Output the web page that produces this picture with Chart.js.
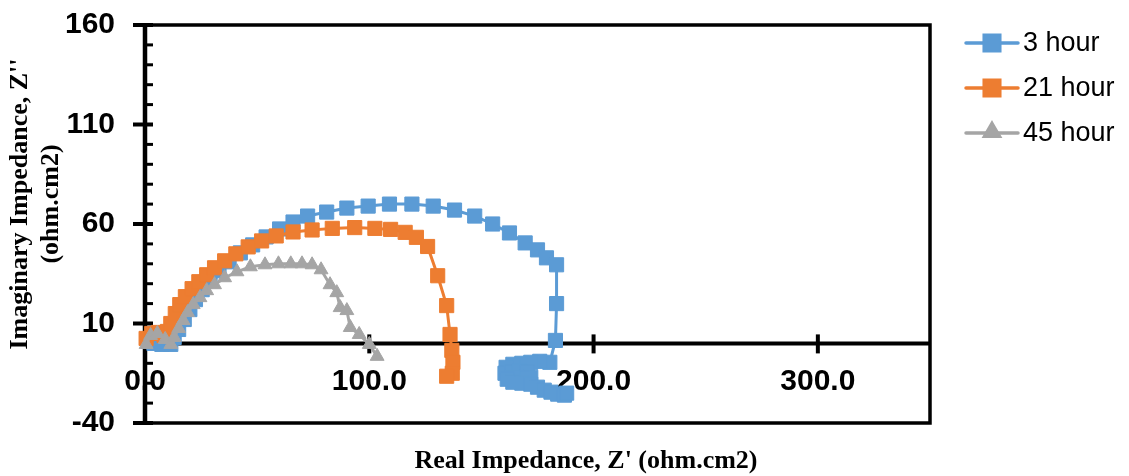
<!DOCTYPE html>
<html>
<head>
<meta charset="utf-8">
<script src="https://cdn.jsdelivr.net/npm/chart.js@4.4.0/dist/chart.umd.min.js"></script>
<style>
  html, body { margin: 0; padding: 0; background: #fff; }
  #wrap { width: 1129px; height: 476px; }
</style>
</head>
<body>
<div id="wrap"><canvas id="chart" width="1129" height="476"></canvas></div>
<script>
// Nyquist data (Z' real, Z'' imaginary, ohm.cm2)
const hour3X = [1.5, 4, 7.5, 11.5, 13, 15, 17.5, 20, 22.5, 25.5, 29, 33, 37.5, 42.5, 48, 54, 60, 66, 72.5, 81, 90, 99.5, 109, 119, 128.5, 138, 147, 155, 162.5, 169.5, 175, 179, 183.5, 183.5, 183, 180.5, 176, 172, 168, 164, 161, 160.5, 163.5, 167, 170.5, 172, 168, 164, 161.5, 164, 168, 172, 175, 178, 181, 184, 187, 188];
const hour3Y = [1, 0, -0.5, -0.5, 3, 7, 12, 17, 22, 27, 32, 36.5, 41, 45.5, 49.5, 53.5, 57.5, 61, 64, 66, 68, 69, 70, 70, 69, 67, 64, 60, 55.5, 50.5, 47, 43, 39.5, 20, 1.5, -9.5, -9, -9.5, -10, -10.5, -12, -15, -14.5, -14, -14.5, -17, -17.5, -17, -18, -19.5, -20, -20.5, -22, -23.5, -24.5, -25.5, -26, -25];

const hour21X = [0.5, 3, 6, 8.5, 10, 11.5, 13.5, 15.5, 18, 21, 24, 27.5, 31, 35.5, 40.5, 46, 52, 58.5, 66, 74.5, 83.5, 93.5, 102.5, 109.5, 116, 121, 126, 130.5, 134.5, 136, 136.8, 137.3, 137, 134.5];
const hour21Y = [2.5, 5, 5.5, 4, 6, 10, 15, 19.5, 23.5, 27.5, 31, 34.5, 38, 41.5, 45, 48.5, 51.5, 54, 56, 57, 57.8, 58.2, 57.8, 57.3, 55.8, 53.3, 48.7, 34, 19, 4.5, -3.5, -9.5, -15, -16.5];

const hour45X = [0.5, 2.5, 5.5, 9, 11.5, 13, 15, 17, 19, 21.5, 24.5, 27.5, 31, 35.5, 41, 47, 53.5, 59.5, 65, 70, 74.5, 78.5, 82.5, 85.5, 87, 90, 91.5, 95.5, 100, 103.5];
const hour45Y = [-0.5, 4, 5, 2, -0.5, 3, 7.5, 11.5, 15.5, 19.5, 23, 26.5, 29.5, 33, 36, 38.5, 39.5, 40, 40, 40, 39.5, 37, 29.5, 25.5, 18, 16.5, 8, 4.5, -0.5, -6.5];

const seriesNames = ['3 hour', '21 hour', '45 hour'];
const seriesColors = ['#5B9BD5', '#ED7D31', '#A5A5A5'];
const seriesMarkers = ['rect', 'rect', 'triangle'];

const xTickValues = [0, 100, 200, 300];
const yTickValues = [-40, 10, 60, 110, 160];
const xRange = [0, 350];
const yRange = [-40, 160];
const yMinorStep = 10;

const xTitle = "Real Impedance, Z' (ohm.cm2)";
const yTitleLines = ["Imaginary Impedance, Z''", "(ohm.cm2)"];

function toPoints(xs, ys) {
  return xs.map((x, i) => ({ x: x, y: ys[i] }));
}

const seriesData = [
  toPoints(hour3X, hour3Y),
  toPoints(hour21X, hour21Y),
  toPoints(hour45X, hour45Y)
];

function markerRadius(style) {
  return style === 'triangle' ? 8 : 10;
}

// axes drawn Excel-style: box, zero lines, crossing ticks, minor ticks
const axisFrame = {
  id: 'axisFrame',
  beforeDatasetsDraw(chart) {
    const { ctx, chartArea: a, scales } = chart;
    const xs = scales.x, ys = scales.y;
    const x0 = xs.getPixelForValue(0);
    const y0 = ys.getPixelForValue(0);
    const seg = (x1, y1, x2, y2) => {
      ctx.beginPath(); ctx.moveTo(x1, y1); ctx.lineTo(x2, y2); ctx.stroke();
    };
    ctx.save();
    ctx.strokeStyle = '#000';
    ctx.lineWidth = 3.5;
    ctx.strokeRect(a.left, a.top, a.right - a.left, a.bottom - a.top);
    ctx.lineWidth = 4;
    seg(a.left, y0, a.right, y0);
    ctx.lineWidth = 4.5;
    seg(x0, a.top, x0, a.bottom);
    // minor ticks on the y axis (inside)
    ctx.lineWidth = 3;
    for (let v = yRange[0]; v <= yRange[1]; v += yMinorStep) {
      const p = ys.getPixelForValue(v);
      seg(x0, p, x0 + 8, p);
    }
    // major ticks cross the y axis
    ctx.lineWidth = 4;
    yTickValues.forEach(v => {
      const p = ys.getPixelForValue(v);
      seg(x0 - 12, p, x0 + 8, p);
    });
    // major ticks cross the x axis (at y = 0)
    xTickValues.forEach(v => {
      if (v === 0) return;
      const p = xs.getPixelForValue(v);
      seg(p, y0 - 9, p, y0 + 10);
    });
    ctx.restore();
  }
};

const titlesAndLegend = {
  id: 'titlesAndLegend',
  afterDraw(chart) {
    const ctx = chart.ctx;
    ctx.save();
    ctx.fillStyle = '#000';
    ctx.textAlign = 'center';
    ctx.textBaseline = 'middle';
    ctx.font = 'bold 26px "Liberation Serif"';
    ctx.fillText(xTitle, 586, 461);
    yTitleLines.forEach((t, i) => {
      ctx.save();
      ctx.translate(20 + i * 31, 204);
      ctx.rotate(-Math.PI / 2);
      ctx.fillText(t, 0, 0);
      ctx.restore();
    });

    // legend: line + marker + label
    ctx.textAlign = 'left';
    ctx.font = '27px "Liberation Sans"';
    seriesNames.forEach((name, i) => {
      const cy = 43 + i * 45;
      ctx.strokeStyle = seriesColors[i];
      ctx.lineWidth = 3.5;
      ctx.lineCap = 'round';
      ctx.beginPath(); ctx.moveTo(966, cy); ctx.lineTo(1018, cy); ctx.stroke();
      Chart.helpers.drawPoint(ctx, {
        pointStyle: seriesMarkers[i],
        radius: seriesMarkers[i] === 'triangle' ? 8.5 : 11,
        borderWidth: 1,
        rotation: 0
      }, 992, seriesMarkers[i] === 'triangle' ? cy - 1 : cy);
      ctx.fillStyle = seriesColors[i];
      ctx.fill();
      ctx.fillStyle = '#000';
      ctx.fillText(name, 1023, cy + 1);
    });
    ctx.restore();
  }
};

const tickFont = { family: '"Liberation Sans", Arial, sans-serif', size: 30, weight: 'bold' };

new Chart(document.getElementById('chart').getContext('2d'), {
  type: 'scatter',
  data: {
    datasets: seriesData.map((pts, i) => ({
      label: seriesNames[i],
      data: pts,
      showLine: true,
      borderColor: seriesColors[i],
      backgroundColor: seriesColors[i],
      borderWidth: 3,
      tension: 0,
      pointStyle: seriesMarkers[i],
      pointRadius: markerRadius(seriesMarkers[i]),
      pointBorderWidth: 1,
      pointBorderColor: seriesColors[i],
      pointBackgroundColor: seriesColors[i],
      clip: false,
      order: 3 - i
    }))
  },
  options: {
    responsive: false,
    animation: false,
    devicePixelRatio: 1,
    layout: { padding: { left: 0, top: 25, right: 199, bottom: 53 } },
    plugins: {
      legend: { display: false },
      tooltip: { enabled: false }
    },
    scales: {
      x: {
        type: 'linear',
        min: xRange[0],
        max: xRange[1],
        position: { y: 0 },
        afterBuildTicks: s => { s.ticks = xTickValues.map(v => ({ value: v })); },
        afterFit: s => { s.paddingLeft = 0; s.paddingRight = 0; },
        ticks: {
          callback: v => v.toFixed(1),
          font: tickFont,
          color: '#000',
          padding: 20,
          maxRotation: 0,
          autoSkip: false
        },
        grid: { display: false, drawTicks: false },
        border: { display: false }
      },
      y: {
        type: 'linear',
        min: yRange[0],
        max: yRange[1],
        afterBuildTicks: s => { s.ticks = yTickValues.map(v => ({ value: v })); },
        afterFit: s => { s.width = 145; s.paddingTop = 0; s.paddingBottom = 0; },
        ticks: {
          font: tickFont,
          color: '#000',
          padding: 30,
          autoSkip: false
        },
        grid: { display: false, drawTicks: false },
        border: { display: false }
      }
    }
  },
  plugins: [axisFrame, titlesAndLegend]
});
</script>
</body>
</html>
